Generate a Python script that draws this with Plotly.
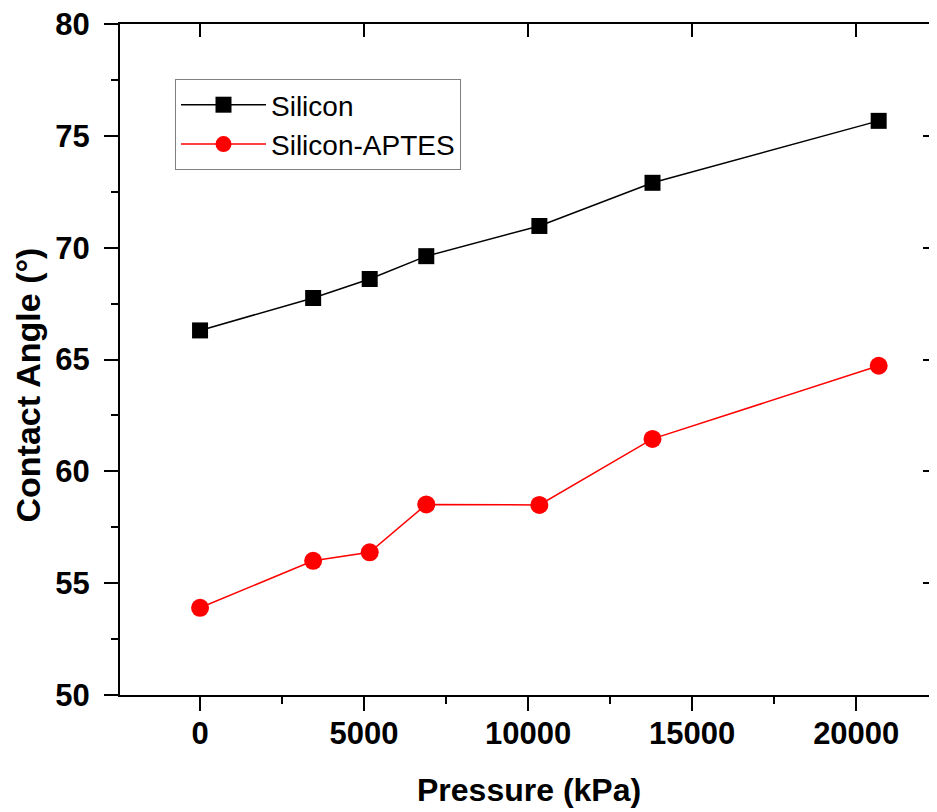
import plotly.graph_objects as go

pressure_kpa = [0, 3447, 5171, 6895, 10342, 13790, 20684]
silicon = [66.3, 67.75, 68.6, 69.62, 70.97, 72.9, 75.67]
silicon_aptes = [53.9, 56.0, 56.38, 58.52, 58.5, 61.45, 64.72]

x_ticks = [0, 5000, 10000, 15000, 20000]
y_ticks = [50, 55, 60, 65, 70, 75, 80]

x_range = [-2440, 22370]
y_range = [50, 80]

FONT = "Liberation Sans"

# page body has an 8px margin, so the figure is sized to fit the window
W, H = 929, 804
ML, MR, MT, MB = 112, 3, 16, 117
PH = H - MT - MB
PW = W - ML - MR

fig = go.Figure()
fig.add_trace(go.Scatter(
    x=pressure_kpa, y=silicon, name="Silicon", mode="lines+markers",
    line=dict(color="black", width=1.5),
    marker=dict(symbol="square", size=16, color="black"),
))
fig.add_trace(go.Scatter(
    x=pressure_kpa, y=silicon_aptes, name="Silicon-APTES", mode="lines+markers",
    line=dict(color="red", width=1.5),
    marker=dict(symbol="circle", size=18, color="red"),
))
# transparent helper trace so that the mirrored (top/right) axes get drawn
fig.add_trace(go.Scatter(
    x=pressure_kpa, y=silicon, xaxis="x2", yaxis="y2", mode="markers",
    marker=dict(opacity=0), showlegend=False, hoverinfo="skip",
))

tickfont = dict(family=FONT, size=31, color="black", weight="bold")

fig.update_layout(
    width=W, height=H,
    margin=dict(l=ML, r=MR, t=MT, b=MB),
    paper_bgcolor="white", plot_bgcolor="white",
    showlegend=True,
    legend=dict(
        x=55 / PW, y=1 - 55 / PH, xanchor="left", yanchor="top",
        bordercolor="#808080", borderwidth=1, bgcolor="white",
        font=dict(family=FONT, size=28, color="black"),
        itemwidth=85, tracegroupgap=0,
    ),
    xaxis=dict(
        range=x_range, tickvals=x_ticks, ticktext=[str(v) for v in x_ticks],
        ticks="outside", ticklen=14, tickwidth=2, tickcolor="black",
        showline=True, linewidth=2, linecolor="black",
        showgrid=False, zeroline=False, automargin=False,
        tickfont=tickfont, ticklabelstandoff=-4, ticklabeloverflow="allow",
        minor=dict(dtick=2500, tick0=0, ticks="outside", ticklen=7, tickwidth=2, tickcolor="black", showgrid=False),
    ),
    yaxis=dict(
        range=y_range, tickvals=y_ticks, ticktext=[str(v) for v in y_ticks],
        ticks="outside", ticklen=14, tickwidth=2, tickcolor="black",
        showline=True, linewidth=2, linecolor="black",
        showgrid=False, zeroline=False, automargin=False,
        tickfont=tickfont, ticklabelstandoff=8, ticklabeloverflow="allow",
        minor=dict(dtick=2.5, tick0=50, ticks="outside", ticklen=7, tickwidth=2, tickcolor="black", showgrid=False),
    ),
    xaxis2=dict(
        visible=True,
        range=x_range, overlaying="x", side="top", anchor="y2",
        tickvals=x_ticks, showticklabels=False,
        ticks="inside", ticklen=13, tickwidth=2, tickcolor="black",
        showline=True, linewidth=2, linecolor="black", showgrid=False, zeroline=False,
        automargin=False,
    ),
    yaxis2=dict(
        visible=True,
        range=y_range, overlaying="y", side="right", anchor="x2",
        tickvals=y_ticks, showticklabels=False,
        ticks="inside", ticklen=11, tickwidth=2, tickcolor="black",
        showline=True, linewidth=2, linecolor="black", showgrid=False, zeroline=False,
        automargin=False,
    ),
    annotations=[
        dict(text="<b>Pressure (kPa)</b>", xref="paper", yref="paper",
             x=(529 - 8 - ML) / PW, y=-(782 - MT - PH) / PH,
             xanchor="center", yanchor="middle", showarrow=False,
             font=dict(family=FONT, size=32, color="black")),
        dict(text="<b>Contact Angle (°)</b>", xref="paper", yref="paper",
             x=(27.5 - 8 - ML) / PW, y=1 - (385 - 8 - MT) / PH,
             xanchor="center", yanchor="middle", textangle=-90, showarrow=False,
             font=dict(family=FONT, size=34, color="black")),
    ],
)

fig.write_html("out.html")
